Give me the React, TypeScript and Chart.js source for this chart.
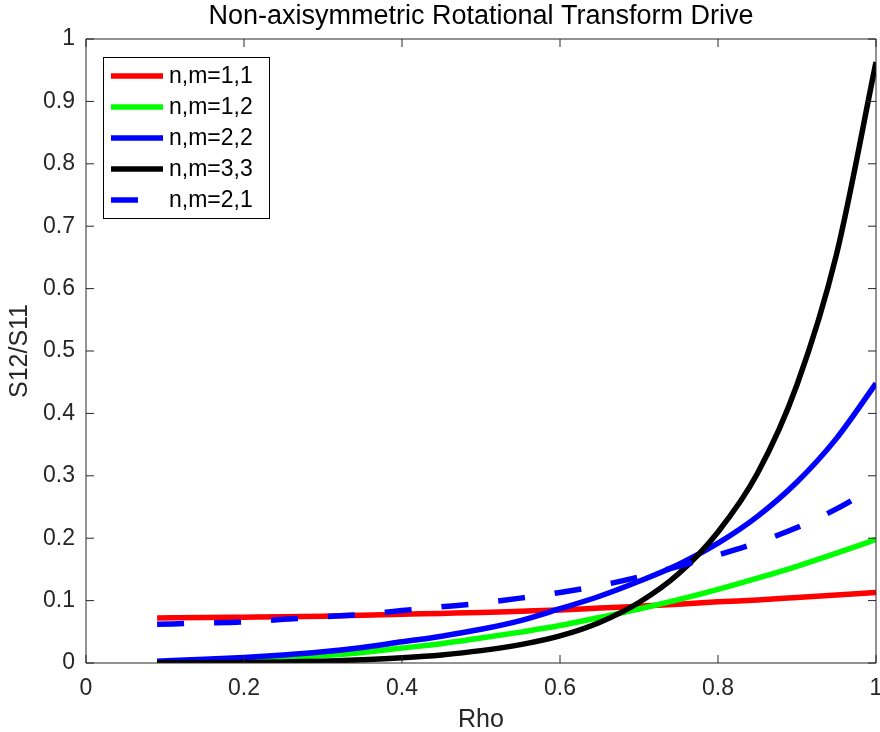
import React, { useEffect, useRef } from "react";
import { Chart, registerables } from "chart.js";

Chart.register(...registerables);

// ---- data ----
const rho = [0.09, 0.15, 0.2, 0.25, 0.3, 0.35, 0.4, 0.45, 0.5, 0.55, 0.6, 0.65, 0.7, 0.75, 0.8, 0.85, 0.9, 0.95, 1.0];
const s11 = [0.072, 0.073, 0.0735, 0.074, 0.075, 0.0765, 0.078, 0.0795, 0.081, 0.083, 0.085, 0.088, 0.091, 0.094, 0.098, 0.101, 0.105, 0.109, 0.113];
const s12 = [0.001, 0.003, 0.005, 0.008, 0.012, 0.017, 0.024, 0.031, 0.04, 0.0495, 0.06, 0.073, 0.0865, 0.1015, 0.118, 0.136, 0.155, 0.176, 0.198];
const s22 = [0.003, 0.006, 0.009, 0.013, 0.018, 0.025, 0.034, 0.043, 0.054, 0.068, 0.087, 0.107, 0.131, 0.158, 0.192, 0.235, 0.29, 0.36, 0.448];
const s33 = [0.0003, 0.0006, 0.001, 0.0018, 0.003, 0.0053, 0.0085, 0.013, 0.0198, 0.0295, 0.0435, 0.065, 0.097, 0.143, 0.21, 0.304, 0.446, 0.655, 0.963];
const s21 = [0.062, 0.064, 0.066, 0.07, 0.074, 0.078, 0.084, 0.09, 0.096, 0.104, 0.113, 0.124, 0.138, 0.155, 0.173, 0.193, 0.217, 0.247, 0.283];

const seriesLabels = ["n,m=1,1", "n,m=1,2", "n,m=2,2", "n,m=3,3", "n,m=2,1"];
const seriesColors = ["#ff0000", "#00ff00", "#0000ff", "#000000", "#0000ff"];
const seriesValues = [s11, s12, s22, s33, s21];
const seriesDashed = [false, false, false, false, true];

const xTicks = [0, 0.2, 0.4, 0.6, 0.8, 1];
const yTicks = [0, 0.1, 0.2, 0.3, 0.4, 0.5, 0.6, 0.7, 0.8, 0.9, 1];

const titleText = "Non-axisymmetric Rotational Transform Drive";
const xLabel = "Rho";
const yLabel = "S12/S11";

const FONT = "'Liberation Sans', Arial, Helvetica, sans-serif";
const AXIS_COLOR = "#262626";
const DASH = [27, 30];

const fmt = (v: number) => String(Number(Number(v).toFixed(2)));

const framePlugin = {
  id: "matlabFrame",
  afterDraw(chart: any) {
    const { ctx, chartArea } = chart;
    const { left, right, top, bottom } = chartArea;
    const xs = chart.scales.x;
    const ys = chart.scales.y;
    const TL = 8;
    ctx.save();
    ctx.strokeStyle = AXIS_COLOR;
    ctx.lineWidth = 1;
    ctx.setLineDash([]);
    ctx.beginPath();
    ctx.rect(left, top, right - left, bottom - top);
    ctx.stroke();
    ctx.beginPath();
    for (const v of xTicks) {
      const px = xs.getPixelForValue(v);
      ctx.moveTo(px, bottom);
      ctx.lineTo(px, bottom - TL);
      ctx.moveTo(px, top);
      ctx.lineTo(px, top + TL);
    }
    for (const v of yTicks) {
      const py = ys.getPixelForValue(v);
      ctx.moveTo(left, py);
      ctx.lineTo(left + TL, py);
      ctx.moveTo(right, py);
      ctx.lineTo(right - TL, py);
    }
    ctx.stroke();

    // legend box (north-west, inside the axes)
    const bx = left + 17;
    const by = top + 18;
    const bw = 166;
    const bh = 161;
    ctx.fillStyle = "#ffffff";
    ctx.fillRect(bx, by, bw, bh);
    ctx.strokeStyle = "#000000";
    ctx.lineWidth = 1;
    ctx.strokeRect(bx + 0.5, by + 0.5, bw, bh);
    ctx.font = `23px ${FONT}`;
    ctx.textBaseline = "middle";
    ctx.textAlign = "left";
    chart.data.datasets.forEach((ds: any, i: number) => {
      const cy = by + 19 + i * 31;
      ctx.beginPath();
      ctx.strokeStyle = ds.borderColor;
      ctx.lineWidth = 5.5;
      ctx.lineCap = "butt";
      ctx.setLineDash(ds.borderDash || []);
      ctx.moveTo(bx + 8, cy);
      ctx.lineTo(bx + 60, cy);
      ctx.stroke();
      ctx.setLineDash([]);
      ctx.fillStyle = "#000000";
      ctx.fillText(ds.label, bx + 66, cy + 1);
    });
    ctx.restore();
  },
};

export default function App() {
  const canvasRef = useRef<HTMLCanvasElement | null>(null);

  useEffect(() => {
    if (!canvasRef.current) return;
    const datasets = seriesLabels.map((label, i) => ({
      label,
      data: rho.map((x, j) => ({ x, y: seriesValues[i][j] })),
      borderColor: seriesColors[i],
      backgroundColor: seriesColors[i],
      borderWidth: 5.5,
      borderDash: seriesDashed[i] ? DASH : [],
      borderCapStyle: "butt" as const,
      pointRadius: 0,
      pointHoverRadius: 0,
      fill: false,
      cubicInterpolationMode: "monotone" as const,
      order: seriesLabels.length - 1 - i,
    }));

    const chart = new Chart(canvasRef.current, {
      type: "line",
      data: { datasets },
      options: {
        animation: false,
        responsive: false,
        maintainAspectRatio: false,
        events: [],
        layout: { padding: 0 },
        plugins: {
          legend: { display: false },
          tooltip: { enabled: false },
          title: {
            display: true,
            text: titleText,
            color: "#000000",
            fullSize: false,
            font: { family: FONT, size: 27, weight: "normal", lineHeight: 1.2 },
            padding: { top: 0, bottom: 6.6 },
          },
        },
        scales: {
          x: {
            type: "linear",
            min: 0,
            max: 1,
            afterBuildTicks: (s: any) => {
              s.ticks = xTicks.map((v) => ({ value: v }));
            },
            afterFit: (s: any) => {
              s.height = 69;
              s.paddingLeft = 0;
              s.paddingRight = 4;
            },
            ticks: {
              autoSkip: false,
              maxRotation: 0,
              padding: 12,
              color: AXIS_COLOR,
              font: { family: FONT, size: 23 },
              callback: (v: any) => fmt(v),
            },
            grid: { display: false, drawTicks: false },
            border: { display: false },
            title: {
              display: true,
              text: xLabel,
              color: AXIS_COLOR,
              font: { family: FONT, size: 25, lineHeight: 1 },
              padding: { top: 0, bottom: -1 },
            },
          },
          y: {
            type: "linear",
            min: 0,
            max: 1,
            afterBuildTicks: (s: any) => {
              s.ticks = yTicks.map((v) => ({ value: v }));
            },
            afterFit: (s: any) => {
              s.width = 86;
              s.paddingTop = 0;
              s.paddingBottom = 0;
            },
            ticks: {
              autoSkip: false,
              padding: 11,
              color: AXIS_COLOR,
              font: { family: FONT, size: 23 },
              callback: (v: any) => fmt(v),
            },
            grid: { display: false, drawTicks: false },
            border: { display: false },
            title: {
              display: true,
              text: yLabel,
              color: AXIS_COLOR,
              font: { family: FONT, size: 25, lineHeight: 1 },
              padding: { top: 8, bottom: 0 },
            },
          },
        },
      },
      plugins: [framePlugin],
    });
    return () => chart.destroy();
  }, []);

  return (
    <div style={{ position: "fixed", left: 0, top: 0, width: 880, height: 732, background: "#ffffff", overflow: "hidden" }}>
      <canvas ref={canvasRef} width={880} height={732} style={{ display: "block", width: 880, height: 732 }} />
    </div>
  );
}
